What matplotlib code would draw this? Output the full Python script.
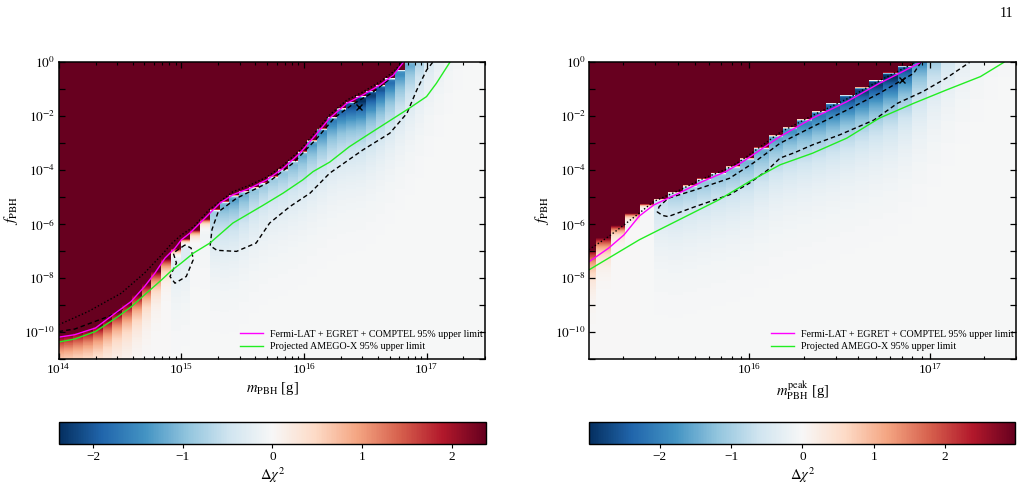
import numpy as np
import matplotlib
matplotlib.use("Agg")
import matplotlib.pyplot as plt
from matplotlib.ticker import LogLocator, NullLocator, FuncFormatter, NullFormatter

plt.rcParams['font.family'] = ['Liberation Serif', 'DejaVu Serif']
plt.rcParams['mathtext.fontset'] = 'stix'

# ---------------- data ----------------
# mass grid: column k sits at log10(m) = 14 + 0.0795 k
log_m_start = 14.0
log_m_step = 0.0795
n_cols = 45
right_first_col = 14

# left panel (monochromatic): per-column red boundary log10 f, best-fit depth |dchi2_min|, red fade (decades)
left_edge = [-10.15, -10.1, -10.02, -9.93, -9.78, -9.55, -9.27, -8.97, -8.62, -8.22,
             -7.75, -7.28, -6.92, -6.55, -6.22, -5.82, -5.45, -5.15, -4.93, -4.77,
             -4.62, -4.45, -4.22, -3.95, -3.64, -3.30, -2.88, -2.45, -2.02, -1.70,
             -1.46, -1.25, -1.05, -0.84, -0.58, -0.27, 0.05, 0.35, 0.65, 0.95,
             1.25, 1.55, 1.85, 2.15, 2.45]
left_depth = [0, 0, 0, 0, 0, 0, 0, 0, 0, 0,
              0, 0, 0.45, 0.5, 0.1, 0.15, 0.85, 1.15, 1.3, 1.15,
              0.95, 0.85, 0.85, 0.95, 1.05, 1.2, 1.35, 1.5, 1.65, 1.85,
              2.1, 2.38, 2.25, 2.05, 1.8, 1.5, 1.2, 0.9, 0.6, 0.4,
              0.25, 0.15, 0.1, 0.07, 0.05]
left_fade = [1.5, 1.5, 1.5, 1.5, 1.5, 1.5, 1.5, 1.5, 1.4, 1.25,
             1.05, 0.75, 0.35, 0.3, 0.35, 0.3] + [0.07] * 29

# right panel (log-normal, peak mass): columns k = 14 .. 44
right_edge = [-6.95, -6.5, -6.05, -5.6, -5.25, -5.05, -4.8, -4.55, -4.3, -4.08,
              -3.85, -3.55, -3.15, -2.7, -2.4, -2.1, -1.8, -1.5, -1.2, -0.92,
              -0.65, -0.38, -0.12, 0.15, 0.42, 0.7, 0.97, 1.25, 1.52, 1.8, 2.07]
right_depth = [0, 0, 0, 0, 0.05, 0.7, 0.95, 1.05, 1.15, 1.2,
               1.3, 1.4, 1.5, 1.65, 1.8, 2.0, 2.2, 2.45, 2.65, 2.8,
               2.9, 2.99, 2.6, 1.9, 1.3, 0.85, 0.55, 0.35, 0.22, 0.14, 0.1]
right_fade = [1.3, 0.9, 0.5, 0.25, 0.12] + [0.07] * 26

left_vlim = 2.38
right_vlim = 2.99

# limit curves (log10 m, log10 f)
left_fermi_logm = [14.0, 14.13, 14.30, 14.47, 14.59, 14.70, 14.785, 14.866, 14.948, 15.0, 15.07,
                   15.233, 15.315, 15.42, 15.56, 15.695, 15.83, 15.967, 16.10, 16.21, 16.35,
                   16.48, 16.62, 16.73, 16.81]
left_fermi_logf = [-10.19, -10.10, -9.85, -9.27, -8.87, -8.31, -7.81, -7.26, -6.89, -6.58, -6.33,
                   -5.59, -5.22, -4.91, -4.67, -4.36, -3.93, -3.37, -2.67, -2.07, -1.52,
                   -1.21, -0.84, -0.47, 0.0]
left_amego_logm = [14.0, 14.13, 14.30, 14.486, 14.595, 14.70, 14.84, 14.92, 15.0, 15.10, 15.233,
                   15.42, 15.667, 15.83, 15.99, 16.075, 16.21, 16.37, 16.54, 16.86, 17.0,
                   17.08, 17.19]
left_amego_logf = [-10.37, -10.26, -9.98, -9.42, -9.05, -8.62, -8.06, -7.72, -7.44, -7.07, -6.70,
                   -5.96, -5.30, -4.85, -4.36, -4.05, -3.70, -3.13, -2.63, -1.70, -1.27,
                   -0.78, 0.0]
left_dash_main_logm = [16.80, 16.70, 16.55, 16.40, 16.25, 16.10, 15.91, 15.70, 15.45, 15.30,
                       15.25, 15.235, 15.29, 15.45, 15.61, 15.72, 15.885, 16.05, 16.21, 16.48,
                       16.70, 16.84, 16.92, 17.0, 17.05]
left_dash_main_logf = [0.0, -0.62, -1.15, -1.55, -2.05, -2.85, -3.74, -4.48, -5.04, -5.55,
                       -6.2, -6.8, -6.97, -7.01, -6.70, -5.96, -5.35, -4.85, -4.11, -3.25,
                       -2.63, -1.89, -1.03, -0.29, 0.0]
left_dash_island_logm = [15.03, 14.934, 14.96, 14.907, 14.948, 15.04, 15.097, 15.08, 15.03]
left_dash_island_logf = [-6.77, -7.07, -7.44, -7.94, -8.19, -7.94, -7.32, -6.89, -6.77]
left_dash_low_logm = [14.0, 14.13, 14.30, 14.42, 14.52]
left_dash_low_logf = [-9.98, -9.89, -9.60, -9.40, -9.15]
left_dot_logm = [14.0, 14.24, 14.51, 14.70, 14.84, 14.92, 15.0, 15.1, 15.23, 15.42, 15.56,
                 15.70, 15.83, 15.97, 16.10, 16.21, 16.35, 16.48, 16.62, 16.73, 16.80]
left_dot_logf = [-9.73, -9.24, -8.56, -7.81, -7.14, -6.72, -6.4, -6.1, -5.45, -4.8, -4.55,
                 -4.25, -3.82, -3.25, -2.55, -1.95, -1.40, -1.10, -0.72, -0.35, 0.0]
left_best = (16.45, -1.67)

right_fermi_logm = [15.11, 15.22, 15.305, 15.39, 15.47, 15.61, 15.74, 15.87, 15.96, 16.17,
                    16.35, 16.54, 16.72, 16.83, 16.95]
right_fermi_logf = [-7.40, -6.89, -6.40, -5.70, -5.29, -4.85, -4.42, -4.05, -3.70, -2.75,
                    -2.07, -1.46, -0.78, -0.41, 0.0]
right_amego_logm = [15.11, 15.39, 15.61, 15.83, 16.0, 16.17, 16.35, 16.54, 16.72, 16.91,
                    17.09, 17.28, 17.41]
right_amego_logf = [-7.70, -6.58, -5.84, -5.10, -4.42, -3.80, -3.37, -2.81, -2.07, -1.52,
                    -1.03, -0.53, 0.0]
right_dash_logm = [16.95, 16.91, 16.72, 16.54, 16.35, 16.17, 16.02, 15.89, 15.70, 15.55,
                   15.50, 15.49, 15.52, 15.55, 15.70, 15.89, 16.0, 16.10, 16.17, 16.25,
                   16.35, 16.5, 16.69, 16.82, 16.96, 17.09, 17.22]
right_dash_logf = [0.0, -0.41, -1.15, -1.77, -2.39, -3.0, -3.74, -4.30, -4.73, -5.04,
                   -5.35, -5.55, -5.68, -5.72, -5.35, -4.91, -4.48, -4.0, -3.55, -3.35,
                   -3.06, -2.69, -2.14, -1.52, -1.09, -0.59, 0.0]
right_dot_logm = [15.11, 15.22, 15.305, 15.39, 15.47, 15.61, 15.74, 15.87, 15.96, 16.17,
                  16.35, 16.54, 16.72, 16.83, 16.92]
right_dot_logf = [-6.95, -6.46, -6.03, -5.59, -5.16, -4.75, -4.32, -3.97, -3.62, -2.6,
                  -1.97, -1.36, -0.68, -0.31, 0.0]
right_best = (16.846, -0.656)

fermi_label = 'Fermi-LAT + EGRET + COMPTEL 95% upper limit'
amego_label = 'Projected AMEGO-X 95% upper limit'

# ---------------- build the Δχ² maps ----------------
logf_edges = np.linspace(-11.0, 0.0, 881)
logf_cent = 0.5 * (logf_edges[1:] + logf_edges[:-1])


def build_map(edges, depths, fades, beta, vmax, tp=0.2):
    cols = []
    for e, d, w in zip(edges, depths, fades):
        t = logf_cent - e
        pos = vmax * 10.0 ** (np.minimum(t, 0) / w)
        ramp = np.clip(-t / 0.08, 0, 1) ** 0.5
        neg = -d * ramp * np.where(t < -tp, 10.0 ** (beta * (t + tp)), 1.0)
        cols.append(np.where(t >= 0, 2 * vmax, pos + neg))
    return np.array(cols).T


def mass_edges(k0, n):
    k = np.arange(k0, k0 + n + 1) - 0.5
    return 10.0 ** (log_m_start + log_m_step * k)


left_map = build_map(left_edge, left_depth, left_fade, 0.38, left_vlim)
right_map = build_map(right_edge, right_depth, right_fade, 0.36, right_vlim)

# ---------------- figure ----------------
fig = plt.figure(figsize=(10.27, 4.86), dpi=100)
ax_l = fig.add_axes([0.0572, 0.2613, 0.4151, 0.6105])
ax_r = fig.add_axes([0.5738, 0.2613, 0.4155, 0.6105])
cax_l = fig.add_axes([0.0577, 0.0864, 0.4152, 0.0453])
cax_r = fig.add_axes([0.5738, 0.0864, 0.4150, 0.0453])


def ylab(v, pos):
    e = int(round(np.log10(v)))
    if e % 2 == 0:
        return r'$10^{%d}$' % e
    return ''


def draw_panel(ax, cax, zmap, k0, vlim, fermi, amego, dashes, dots, best, xlim, xlabel):
    me = mass_edges(k0, zmap.shape[1])
    mesh = ax.pcolormesh(me, 10.0 ** logf_edges, zmap, cmap='RdBu_r', vmin=-vlim, vmax=vlim,
                         shading='flat', rasterized=True)
    ax.set_xscale('log')
    ax.set_yscale('log')
    for lm, lf in dashes:
        ax.plot(10.0 ** np.array(lm), 10.0 ** np.array(lf), color='black', lw=1.0,
                ls=(0, (3.2, 2.2)))
    for lm, lf in dots:
        ax.plot(10.0 ** np.array(lm), 10.0 ** np.array(lf), color='black', lw=1.0,
                ls=(0, (1, 1.6)))
    ax.plot(10.0 ** np.array(fermi[0]), 10.0 ** np.array(fermi[1]), color='#ff00ff', lw=1.0,
            label=fermi_label)
    ax.plot(10.0 ** np.array(amego[0]), 10.0 ** np.array(amego[1]), color='#22ee22', lw=1.0,
            label=amego_label)
    ax.plot([10.0 ** best[0]], [10.0 ** best[1]], marker='x', color='black', ms=4, mew=1.0, ls='none')
    ax.set_xlim(*xlim)
    ax.set_ylim(1e-11, 1.0)
    ax.set_yticks(10.0 ** np.arange(-11, 1))
    ax.yaxis.set_major_formatter(FuncFormatter(ylab))
    ax.yaxis.set_minor_locator(NullLocator())
    ax.xaxis.set_major_locator(LogLocator(base=10, numticks=20))
    ax.xaxis.set_minor_locator(LogLocator(base=10, subs=np.arange(2, 10), numticks=40))
    ax.xaxis.set_minor_formatter(NullFormatter())
    ax.tick_params(which='both', direction='in', top=True, right=True, labelsize=9.5, pad=2.5)
    ax.tick_params(which='major', length=4.5, width=0.9)
    ax.tick_params(which='minor', length=2.5, width=0.8)
    for sp in ax.spines.values():
        sp.set_linewidth(1.1)
    ax.set_ylabel(r'$f_{\rm PBH}$', fontsize=11, labelpad=3)
    ax.set_xlabel(xlabel, fontsize=10.5, labelpad=2)
    ax.legend(loc='lower right', bbox_to_anchor=(1.0, 0.02), frameon=False, fontsize=7.2,
              borderaxespad=0.0, borderpad=0.2, handlelength=2.3, handletextpad=0.7,
              labelspacing=0.35)
    cb = fig.colorbar(mesh, cax=cax, orientation='horizontal')
    cb.set_ticks([-2, -1, 0, 1, 2])
    cb.ax.tick_params(labelsize=9.5, length=3, width=0.8, pad=2)
    cb.outline.set_linewidth(1.0)
    cb.set_label(r'$\Delta\chi^2$', fontsize=10.5, labelpad=2)


draw_panel(ax_l, cax_l, left_map, 0, left_vlim,
           (left_fermi_logm, left_fermi_logf), (left_amego_logm, left_amego_logf),
           [(left_dash_main_logm, left_dash_main_logf), (left_dash_island_logm, left_dash_island_logf),
            (left_dash_low_logm, left_dash_low_logf)],
           [(left_dot_logm, left_dot_logf)], left_best, (1e14, 3e17), r'$m_{\rm PBH}$ [g]')

draw_panel(ax_r, cax_r, right_map, right_first_col, right_vlim,
           (right_fermi_logm, right_fermi_logf), (right_amego_logm, right_amego_logf),
           [(right_dash_logm, right_dash_logf)],
           [(right_dot_logm, right_dot_logf)], right_best,
           (10.0 ** (log_m_start + log_m_step * right_first_col), 3e17),
           r'$m_{\rm PBH}^{\rm peak}$ [g]')

fig.text(0.987, 0.972, '11', ha='right', va='center', fontsize=10)

fig.savefig('out.png', dpi=100)
